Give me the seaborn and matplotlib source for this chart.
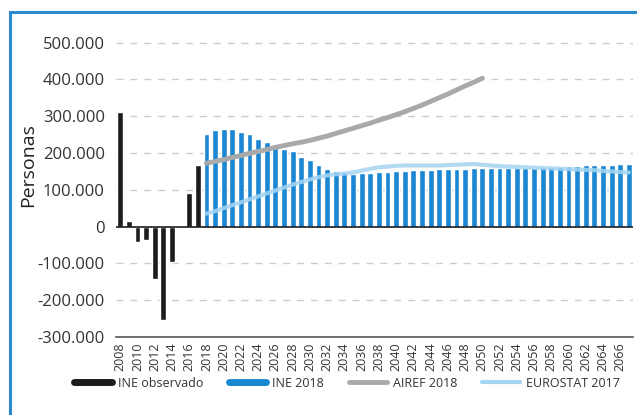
import numpy as np
import pandas as pd
import matplotlib
matplotlib.use("Agg")
import matplotlib.pyplot as plt
import seaborn as sns
from matplotlib.lines import Line2D
from matplotlib.patches import Rectangle
from matplotlib.ticker import FuncFormatter

# ---------------- data ----------------
years_obs = list(range(2008, 2018))
ine_observado = [312000, 14000, -43000, -36000, -142000, -254000, -95000, -4000, 91000, 168000]

years_proj = list(range(2018, 2068))
ine_2018 = [251000, 261000, 266000, 265000, 258000, 251000, 238000, 230000, 219000, 211000,
            204000, 190000, 180000, 168000, 157000, 150000, 147000, 143000, 145000, 146000,
            147000, 148000, 150000, 152000, 153000, 154000, 155000, 156000, 156000, 157000,
            157000, 158000, 158000, 159000, 159000, 159000, 160000, 160000, 160000, 161000,
            162000, 163000, 164000, 165000, 166000, 167000, 168000, 168000, 169000, 169000]

years_airef = list(range(2018, 2051))
airef_2018 = [172000, 177000, 182000, 188000, 193000, 199000, 204000, 209000, 215000, 220000,
              225000, 229000, 234000, 240000, 246000, 253000, 260000, 267000, 274000, 281000,
              289000, 296000, 304000, 312000, 321000, 330000, 340000, 350000, 360000, 371000,
              382000, 392000, 403000]

years_euro = list(range(2018, 2068))
eurostat_2017 = [35000, 42000, 50000, 58000, 66000, 74000, 82000, 90000, 98000, 106000,
                 114000, 121000, 128000, 134000, 139000, 142000, 144000, 147000, 152000, 157000,
                 161000, 163000, 165000, 166000, 166000, 166000, 166000, 166000, 167000, 168000,
                 169000, 170000, 168000, 166000, 164000, 163000, 162000, 161000, 160000, 159000,
                 158000, 157000, 156000, 155000, 154000, 153000, 151000, 150000, 148000, 147000]

xtick_years = list(range(2008, 2067, 2))
yticks = [-300000, -200000, -100000, 0, 100000, 200000, 300000, 400000, 500000]

series_names = ["INE observado", "INE 2018", "AIREF 2018", "EUROSTAT 2017"]
c_black = "#1c1c1c"
c_blue = "#1b87d2"
c_gray = "#a9a9a9"
c_light = "#a5d5f2"

# ---------------- figure ----------------
sns.set_theme(style="white")
plt.rcParams["font.family"] = ["Open Sans", "DejaVu Sans"]

fig = plt.figure(figsize=(6.37, 4.15), dpi=100)
ax = fig.add_axes([0.182, 0.188, 0.812, 0.745])

bars = pd.DataFrame({
    "year": years_obs + years_proj,
    "value": ine_observado + ine_2018,
    "series": ["INE observado"] * len(years_obs) + ["INE 2018"] * len(years_proj),
})
sns.barplot(data=bars, x="year", y="value", hue="series", native_scale=True,
            dodge=False, width=0.68, palette={"INE observado": c_black, "INE 2018": c_blue},
            saturation=1, legend=False, ax=ax, zorder=2)

airef = pd.DataFrame({"year": years_airef, "value": airef_2018})
euro = pd.DataFrame({"year": years_euro, "value": eurostat_2017})
sns.lineplot(data=airef, x="year", y="value", color=c_gray, lw=3.5, ax=ax, zorder=4)
sns.lineplot(data=euro, x="year", y="value", color=c_light, lw=3.0, ax=ax, zorder=4, alpha=0.85)

ax.set_xlim(2007.5, 2067.5)
ax.set_ylim(-300000, 540000)
for v in yticks:
    if v not in (0, -300000):
        ax.axhline(v, color="#cccccc", lw=1.0, ls=(0, (5, 5)), zorder=1)
ax.axhline(0, color="#1c1c1c", lw=1.2, zorder=3)

ax.set_yticks(yticks)
ax.yaxis.set_major_formatter(FuncFormatter(lambda v, p: f"{int(v):,}".replace(",", ".")))
ax.set_xticks(xtick_years)
ax.set_xticklabels([str(y) for y in xtick_years], rotation=90, fontsize=9, color="#333333")
ax.tick_params(axis="y", labelsize=12, colors="#333333", length=0, pad=8)
ax.tick_params(axis="x", length=0, pad=4)
ax.set_xlabel("")
ax.set_ylabel("Personas", fontsize=14, color="#222222")
ax.yaxis.set_label_coords(-0.152, 0.557)

for s in ["top", "right", "left"]:
    ax.spines[s].set_visible(False)
ax.spines["bottom"].set_color("#555555")
ax.spines["bottom"].set_linewidth(1.2)

handles = [
    Line2D([], [], color=c_black, lw=5),
    Line2D([], [], color=c_blue, lw=5),
    Line2D([], [], color=c_gray, lw=3.5),
    Line2D([], [], color=c_light, lw=3),
]
fig.legend(handles, series_names, loc="center", bbox_to_anchor=(0.545, 0.077), ncol=4,
           frameon=False, fontsize=9, handlelength=3.0, columnspacing=2.0,
           handletextpad=0.5, labelcolor="#333333")

fig.patches.append(Rectangle((10 / 637, -0.1), 1.2, 1 - 12 / 415 + 0.1,
                             transform=fig.transFigure, fill=False,
                             edgecolor="#2a8ad0", lw=2.2, zorder=0))

fig.savefig("out.png", dpi=100)
